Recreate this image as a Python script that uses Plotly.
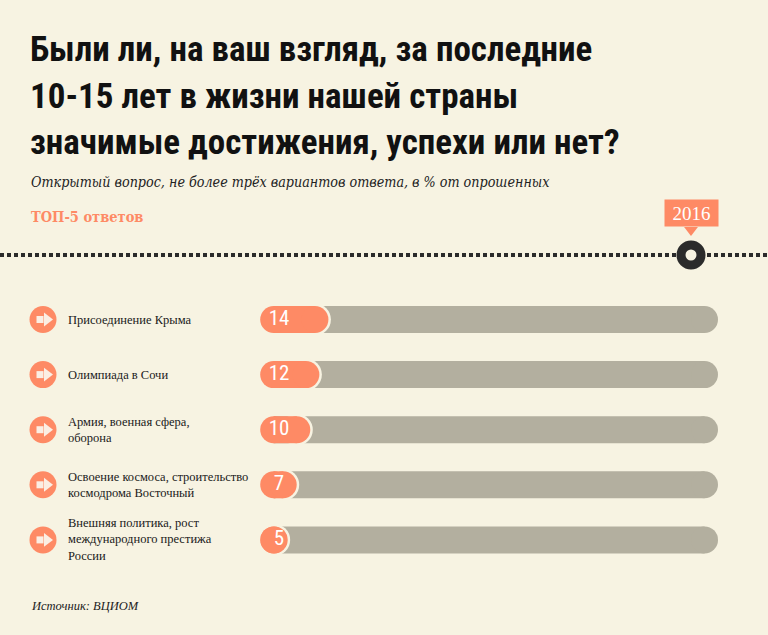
import plotly.graph_objects as go

# ---- data ----
categories = [
    "Присоединение Крыма",
    "Олимпиада в Сочи",
    "Армия, военная сфера,<br>оборона",
    "Освоение космоса, строительство<br>космодрома Восточный",
    "Внешняя политика, рост<br>международного престижа<br>России",
]
values = [14, 12, 10, 7, 5]
year_label = "2016"
title_lines = [
    "Были ли, на ваш взгляд, за последние",
    "10-15 лет в жизни нашей страны",
    "значимые достижения, успехи или нет?",
]
subtitle = "Открытый вопрос, не более трёх вариантов ответа, в % от опрошенных"
top_label = "ТОП-5 ответов"
source = "Источник: ВЦИОМ"
scale_max = 100

# ---- style ----
BG = "#f7f3e2"
ORANGE = "#fe8a65"
GRAY = "#b3af9f"
DARK = "#2b2b2b"
COND = "Roboto Condensed, Open Sans Condensed, sans-serif"
SERIF_C = "DejaVu Serif Condensed, DejaVu Serif, serif"
W, H = 768, 635
PILL_START = 4.9
PILL_PX = 27
ROW0_PX, ROW_STEP_PX = 319.5, 55.1
X0_PX, X_UNIT_PX = 251.5, 4.53


def xdat(px):
    return (px - X0_PX) / X_UNIT_PX


def ydat(px):
    return (px - ROW0_PX) / ROW_STEP_PX


rows = list(range(len(values)))
bar_w = PILL_PX / ROW_STEP_PX

fig = go.Figure()
# gray track (0..100 %)
fig.add_trace(go.Bar(
    y=rows, x=[scale_max - PILL_START] * len(rows), base=PILL_START,
    orientation="h", width=bar_w, marker=dict(color=GRAY, line=dict(width=0)),
    hoverinfo="skip"))
fig.add_trace(go.Scatter(
    y=rows, x=[scale_max] * len(rows), mode="markers",
    marker=dict(symbol="circle", size=PILL_PX, color=GRAY, line=dict(width=0)),
    hoverinfo="skip"))
# cream outline at the end of each orange pill
fig.add_trace(go.Scatter(
    y=rows, x=values, mode="markers",
    marker=dict(symbol="circle", size=PILL_PX + 5, color=BG, line=dict(width=0)),
    hoverinfo="skip"))
# orange pill bodies
seg_x, seg_y = [], []
for i, v in zip(rows, values):
    seg_x += [PILL_START, v, None]
    seg_y += [i, i, None]
fig.add_trace(go.Scatter(
    x=seg_x, y=seg_y, mode="lines", line=dict(color=ORANGE, width=PILL_PX),
    hoverinfo="skip"))
fig.add_trace(go.Scatter(
    y=rows + rows, x=[PILL_START] * len(rows) + values, mode="markers",
    marker=dict(symbol="circle", size=PILL_PX, color=ORANGE, line=dict(width=0)),
    hoverinfo="skip"))
# value labels
fig.add_trace(go.Scatter(
    y=rows, x=[xdat(279)] * len(rows), mode="text",
    text=[str(v) for v in values], textposition="middle center",
    textfont=dict(family=COND, size=21, color="white"),
    hoverinfo="skip"))
# arrow bullets
fig.add_trace(go.Scatter(
    y=rows, x=[xdat(43)] * len(rows), mode="markers",
    marker=dict(symbol="circle", size=27, color=ORANGE, line=dict(width=0)),
    hoverinfo="skip"))
fig.add_trace(go.Scatter(
    y=rows, x=[xdat(40)] * len(rows), mode="markers",
    marker=dict(symbol="square", size=7, color="#fbeee4", line=dict(width=0)),
    hoverinfo="skip"))
fig.add_trace(go.Scatter(
    y=rows, x=[xdat(47)] * len(rows), mode="markers",
    marker=dict(symbol="triangle-right", size=12, color="#fbeee4", line=dict(width=0)),
    hoverinfo="skip"))

# timeline marker
tl_y = ydat(255)
fig.add_trace(go.Scatter(
    y=[tl_y], x=[xdat(691)], mode="markers",
    marker=dict(symbol="circle", size=20, color=BG, line=dict(width=9, color=DARK)),
    hoverinfo="skip"))
fig.add_trace(go.Scatter(
    y=[ydat(230)], x=[xdat(691)], mode="markers",
    marker=dict(symbol="triangle-down", size=12, color=ORANGE, line=dict(width=0)),
    hoverinfo="skip"))

shapes = [
    dict(type="line", xref="paper", yref="y", x0=0, x1=1, y0=tl_y, y1=tl_y,
         line=dict(color=DARK, width=4, dash="4px,3px"), layer="below"),
]

annotations = []
for i, line in enumerate(title_lines):
    annotations.append(dict(
        xref="paper", yref="paper", x=28 / W, y=1 - (50 + i * 46.5) / H,
        xanchor="left", yanchor="middle", showarrow=False, text="<b>" + line + "</b>",
        font=dict(family=COND, size=35, color="#111111")))
annotations.append(dict(
    xref="paper", yref="paper", x=29 / W, y=1 - 182 / H, xanchor="left", yanchor="middle",
    showarrow=False, text="<i>" + subtitle + "</i>",
    font=dict(family=SERIF_C, size=14.2, color="#222222")))
annotations.append(dict(
    xref="paper", yref="paper", x=29 / W, y=1 - 216 / H, xanchor="left", yanchor="middle",
    showarrow=False, text="<b>" + top_label + "</b>",
    font=dict(family=SERIF_C, size=14.5, color=ORANGE)))
annotations.append(dict(
    xref="paper", yref="paper", x=29 / W, y=1 - 606 / H, xanchor="left", yanchor="middle",
    showarrow=False, text="<i>" + source + "</i>",
    font=dict(family="Liberation Serif, serif", size=12.5, color="#222222")))
annotations.append(dict(
    xref="x", yref="y", x=xdat(691), y=ydat(213), xanchor="center", yanchor="middle",
    showarrow=False, text=year_label, bgcolor=ORANGE, borderpad=3, width=47, height=20,
    font=dict(family="Liberation Serif, serif", size=19, color="white")))
for i, c in enumerate(categories):
    annotations.append(dict(
        xref="paper", yref="y", x=66 / W, y=i, xanchor="left", yanchor="middle",
        showarrow=False, text=c, align="left",
        font=dict(family="Liberation Serif, serif", size=12.5, color="#1a1a1a")))

fig.update_layout(
    width=W, height=H, paper_bgcolor=BG, plot_bgcolor=BG,
    margin=dict(l=0, r=0, t=0, b=0), showlegend=False, barmode="overlay",
    xaxis=dict(range=[xdat(0), xdat(W)], visible=False, fixedrange=True),
    yaxis=dict(range=[ydat(H), ydat(0)], visible=False, fixedrange=True),
    shapes=shapes, annotations=annotations,
)
fig.write_html("out.html", config=dict(displayModeBar=False),
               post_script="document.body.style.margin='0';")
